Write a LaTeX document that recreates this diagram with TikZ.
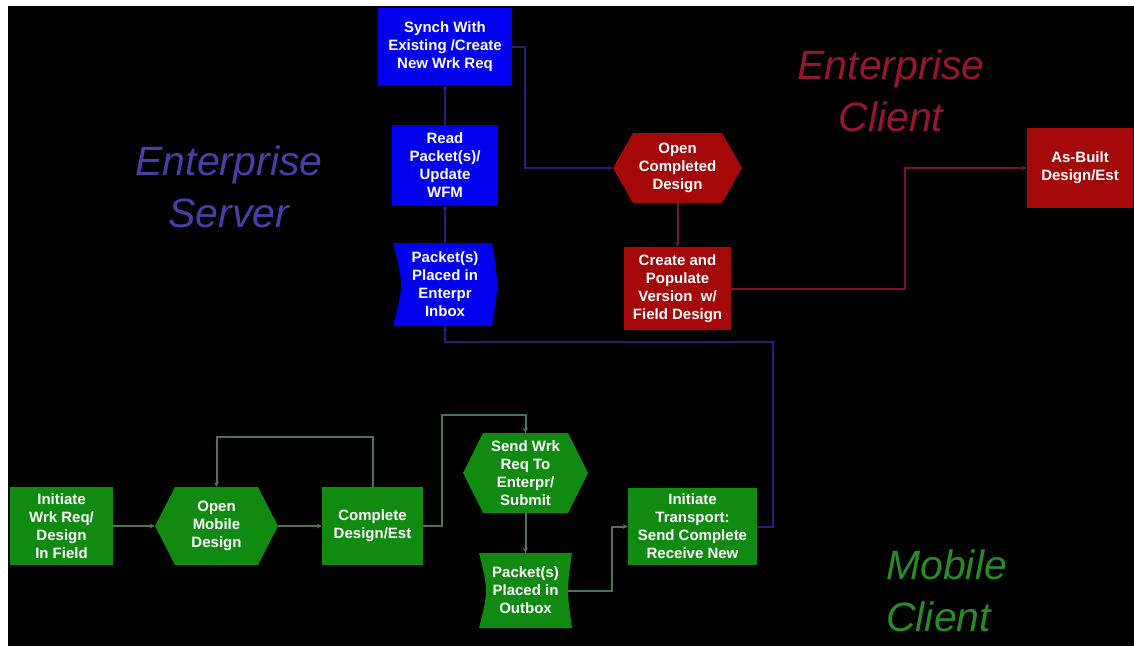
\documentclass[tikz,border=0pt]{standalone}
\usepackage{fontspec}
\setmainfont{Liberation Sans}
\usetikzlibrary{arrows.meta,calc}

\definecolor{srvblue}{RGB}{0,0,238}
\definecolor{clired}{RGB}{165,8,8}
\definecolor{mobgreen}{RGB}{16,138,16}
\definecolor{srvline}{RGB}{32,32,125}
\definecolor{cliline}{RGB}{115,25,35}
\definecolor{mobline}{RGB}{82,115,82}
\definecolor{srvlabel}{RGB}{72,62,168}
\definecolor{clilabel}{RGB}{150,22,45}
\definecolor{moblabel}{RGB}{40,138,40}

\begin{document}
\begin{tikzpicture}[x=1pt,y=-1pt,
  txt/.style={inner sep=0pt, align=center, text=white,
    font=\bfseries\fontsize{15}{18}\selectfont},
  sz/.style 2 args={minimum width=#1pt, minimum height=#2pt},
  rectbox/.style={txt, rectangle, fill=#1},
  hexbox/.style={txt, rectangle, path picture={
    \fill[#1] ([xshift=20pt]path picture bounding box.north west)
      -- ([xshift=-20pt]path picture bounding box.north east)
      -- (path picture bounding box.east)
      -- ([xshift=-20pt]path picture bounding box.south east)
      -- ([xshift=20pt]path picture bounding box.south west)
      -- (path picture bounding box.west) -- cycle;}},
  % left side hollowed, right side bulging
  inboxshape/.style={txt, rectangle, path picture={
    \fill[#1] (path picture bounding box.north west)
      .. controls ([xshift=10.7pt]path picture bounding box.west)
      .. (path picture bounding box.south west)
      -- ([xshift=-5pt]path picture bounding box.south east)
      .. controls ([xshift=1.7pt]path picture bounding box.east)
      .. ([xshift=-5pt]path picture bounding box.north east) -- cycle;}},
  % both sides hollowed
  outboxshape/.style={txt, rectangle, path picture={
    \fill[#1] (path picture bounding box.north west)
      .. controls ([xshift=9.3pt]path picture bounding box.west)
      .. (path picture bounding box.south west)
      -- (path picture bounding box.south east)
      .. controls ([xshift=-5.3pt]path picture bounding box.east)
      .. (path picture bounding box.north east) -- cycle;}},
  conn/.style={line width=2pt, draw=#1, -{Stealth[length=5pt,width=5pt]}},
  zone/.style={inner sep=0pt, align=center, text=#1,
    font=\itshape\fontsize{41}{52}\selectfont},
]
\useasboundingbox (0,0) rectangle (1134,646);
\fill[white] (0,0) rectangle (1134,646);
\fill[black] (8,6) rectangle (1134,646);

% zone titles
\node[zone=srvlabel] (lsrv) at (229,187) {Enterprise\\Server};
\node[zone=clilabel] (lcli) at (891,91) {Enterprise\\Client};
\node[zone=moblabel, align=left, anchor=west] (lmob) at (886,591) {Mobile\\Client};

% enterprise server
\node[rectbox=srvblue, sz={134}{77}] (syn) at (445,46.5) {Synch With\\Existing /Create\\New Wrk Req};
\node[rectbox=srvblue, sz={106}{80}] (read) at (445,165) {Read\\Packet(s)/\\Update\\WFM};
\node[inboxshape=srvblue, sz={104}{83}] (inb) at (445,284.5) {Packet(s)\\Placed in\\Enterpr\\Inbox};

% enterprise client
\node[hexbox=clired, sz={129}{70}] (ocd) at (677.5,168) {Open\\Completed\\Design};
\node[rectbox=clired, sz={107}{83}] (cpv) at (677.5,288.5) {Create and\\Populate\\Version\ \ w/\\Field Design};
\node[rectbox=clired, sz={106}{80}] (abd) at (1080,168) {As-Built\\Design/Est};

% mobile client
\node[rectbox=mobgreen, sz={103}{78}] (iwr) at (61.5,526) {Initiate\\Wrk Req/\\Design\\In Field};
\node[hexbox=mobgreen, sz={123}{78}] (omd) at (216.5,526) {Open\\Mobile\\Design};
\node[rectbox=mobgreen, sz={101}{78}] (cde) at (372.5,526) {Complete\\Design/Est};
\node[hexbox=mobgreen, sz={125}{80}] (swr) at (525.5,473) {Send Wrk\\Req To\\Enterpr/\\Submit};
\node[outboxshape=mobgreen, sz={93}{75}] (pob) at (525.5,590.5) {Packet(s)\\Placed in\\Outbox};
\node[rectbox=mobgreen, sz={129}{77}] (itr) at (692.5,526.5) {Initiate\\Transport:\\Send Complete\\Receive New};

% server flow
\draw[conn=srvline] (inb.north) -- (read.south);
\draw[conn=srvline] (read.north) -- (syn.south);
\draw[conn=srvline] (syn.east) -- ++(13,0) |- (ocd.west);
\draw[conn=srvline] (itr.east) -- ++(16,0) |- ($(inb.south)+(0,16)$) -- (inb.south);

% client flow
\draw[conn=cliline] (ocd.south) -- (cpv.north);
\draw[conn=cliline] (cpv.east) -- ++(174,0) |- (abd.west);

% mobile flow
\draw[conn=mobline] (iwr.east) -- (omd.west);
\draw[conn=mobline] (omd.east) -- (cde.west);
\draw[conn=mobline] (cde.north) -- ++(0,-50) -| (omd.north);
\draw[conn=mobline] (cde.east) -- ++(19,0) |- ($(swr.north)+(0,-18)$) -- (swr.north);
\draw[conn=mobline] (swr.south) -- (pob.north);
\draw[conn=mobline] ([xshift=-4pt]pob.east) -- ++(44,0) |- (itr.west);
\end{tikzpicture}
\end{document}
